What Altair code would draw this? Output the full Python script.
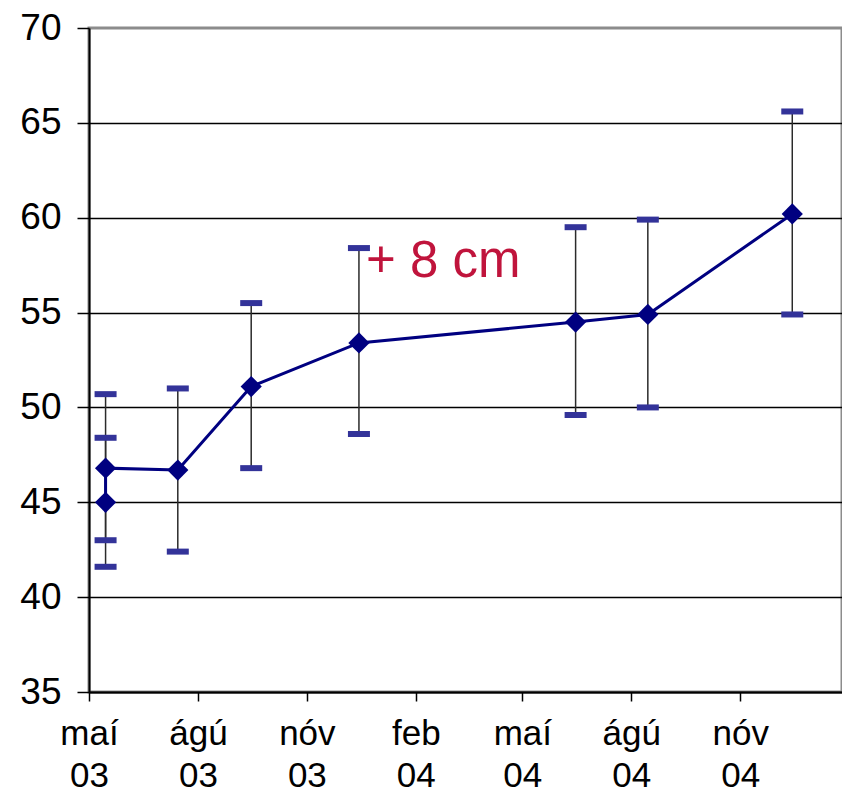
import altair as alt
import pandas as pd

# ---- data ----
dates = ["2003-05-15", "2003-05-15", "2003-07-15", "2003-09-15",
         "2003-12-15", "2004-06-15", "2004-08-15", "2004-12-15"]
means = [45.0, 46.8, 46.7, 51.1, 53.4, 54.5, 54.9, 60.2]
lower = [41.6, 43.0, 42.4, 46.8, 48.6, 49.6, 50.0, 54.9]
upper = [48.4, 50.7, 51.0, 55.5, 58.4, 59.5, 59.9, 65.6]

tick_dates = [(2003, 5), (2003, 8), (2003, 11), (2004, 2), (2004, 5), (2004, 8), (2004, 11)]
tick_months = ["maí", "ágú", "nóv", "feb", "maí", "ágú", "nóv"]
tick_years = ["03", "03", "03", "04", "04", "04", "04"]
y_ticks = [35, 40, 45, 50, 55, 60, 65, 70]

note_text = ["+ 8 cm"]
note_date = ["2003-12-21"]
note_value = [56.9]

df = pd.DataFrame({"idx": list(range(len(dates))), "date": dates,
                   "mean": means, "lo": lower, "hi": upper})
caps = pd.DataFrame({"date": dates * 2, "v": lower + upper})
note = pd.DataFrame({"date": note_date, "v": note_value, "t": note_text})

FONT = "Liberation Sans"

# multi-line tick labels via ternary chain
expr = "''"
for (yy, mm), mo, yr in reversed(list(zip(tick_dates, tick_months, tick_years))):
    expr = (f"(utcyear(datum.value) == {yy} && utcmonth(datum.value) == {mm - 1}) "
            f"? ['{mo}', '{yr}'] : {expr}")

x_scale = alt.Scale(type="utc", nice=False,
                    domain=[alt.DateTime(year=2003, month=5, date=1, utc=True),
                            alt.DateTime(year=2005, month=1, date=26, utc=True)])
y_scale = alt.Scale(domain=[35, 70], nice=False, zero=False)

x_axis = alt.Axis(
    values=[alt.DateTime(year=yy, month=mm, date=1, utc=True) for yy, mm in tick_dates],
    labelExpr=expr, grid=False, title=None,
    domainColor="black", domainWidth=2, tickColor="black", tickWidth=1.5, tickSize=9,
    labelFont=FONT, labelFontSize=35, labelColor="black", labelLineHeight=42,
    labelPadding=15, labelBaseline="top", labelFlush=False, labelOverlap=False)
y_axis = alt.Axis(
    values=y_ticks, title=None, grid=True,
    gridColor={"condition": {"test": "datum.value === 70", "value": "transparent"},
               "value": "black"},
    gridWidth=1.5, domainColor="black", domainWidth=2, tickColor="black",
    tickWidth=1.5, tickSize=12, labelFont=FONT, labelFontSize=37,
    labelColor="black", labelPadding=16)

base = alt.Chart(df)

stems = base.mark_rule(color="#2b2b2b", strokeWidth=1.5).encode(
    x=alt.X("date:T", scale=x_scale, axis=x_axis),
    y=alt.Y("lo:Q", scale=y_scale, axis=y_axis),
    y2="hi:Q")

cap_marks = alt.Chart(caps).mark_tick(
    orient="horizontal", color="#333399", size=22, thickness=6, opacity=1).encode(
    x=alt.X("date:T", scale=x_scale),
    y=alt.Y("v:Q", scale=y_scale))

line = base.mark_line(color="#000080", strokeWidth=3).encode(
    x=alt.X("date:T", scale=x_scale),
    y=alt.Y("mean:Q", scale=y_scale),
    order="idx:Q")

points = base.mark_point(shape="diamond", filled=True, size=450,
                         color="#000080", opacity=1).encode(
    x=alt.X("date:T", scale=x_scale),
    y=alt.Y("mean:Q", scale=y_scale))

text = alt.Chart(note).mark_text(
    align="left", baseline="alphabetic", font=FONT, fontSize=51,
    color="#C0143C").encode(
    x=alt.X("date:T", scale=x_scale),
    y=alt.Y("v:Q", scale=y_scale),
    text="t:N")

chart = alt.layer(stems, cap_marks, line, points, text).properties(
    width=753, height=664,
    padding={"left": 81, "top": 20, "right": 0, "bottom": 101},
    autosize="none",
).configure_view(stroke="#8c8c8c", strokeWidth=3)

chart.save("out.html", embed_options={"renderer": "svg", "actions": False})
